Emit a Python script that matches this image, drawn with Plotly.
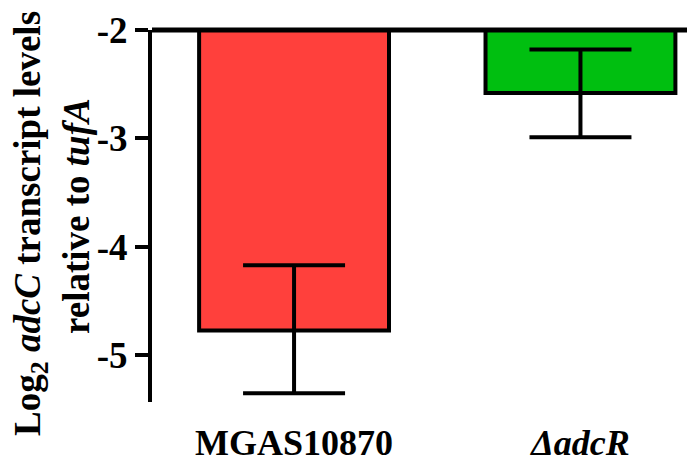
import plotly.graph_objects as go

categories = ["<b>MGAS10870</b>", "<b><i>ΔadcR</i></b>"]
values = [-4.77, -2.58]
err_plus = [0.60, 0.40]
err_minus = [0.58, 0.41]
colors = ["#ff403c", "#00bf10"]
base_level = -2
y_ticks = [-2, -3, -4, -5]
title_lines = ["<b>Log<sub>2</sub> <i>adcC</i> transcript levels</b>", "<b>relative to <i>tufA</i></b>"]

FONT = "Liberation Serif, Times New Roman, serif"
W, H = 687, 471
ML, MR, MT, MB = 152, 0, 30, 69
PW = W - ML - MR
PH = H - MT - MB

fig = go.Figure()
fig.add_trace(go.Bar(
    x=categories,
    y=[v - base_level for v in values],
    base=base_level,
    marker=dict(color=colors, line=dict(color="black", width=4)),
    width=0.663,
    showlegend=False,
))
fig.add_trace(go.Scatter(
    x=categories,
    y=values,
    mode="markers",
    marker=dict(size=0.1, color="rgba(0,0,0,0)"),
    error_y=dict(type="data", symmetric=False, array=err_plus, arrayminus=err_minus,
                 color="black", thickness=4, width=51),
    showlegend=False,
))

fig.add_shape(type="line", xref="paper", yref="paper", x0=0, x1=1, y0=1, y1=1,
              line=dict(color="black", width=5))

for px, py, txt in zip([30, 76], [224, 216], title_lines):
    fig.add_annotation(
        text=txt, xref="paper", yref="paper",
        x=(px - ML) / PW, y=1 - (py - MT) / PH, xanchor="center", yanchor="middle",
        textangle=-90, showarrow=False,
        font=dict(size=37, family=FONT, color="black"),
    )

fig.update_layout(
    width=W, height=H,
    margin=dict(l=ML, r=MR, t=MT, b=MB),
    plot_bgcolor="white", paper_bgcolor="white",
    font=dict(family=FONT, color="black"),
    xaxis=dict(
        range=[-0.496, 1.372], automargin=False,
        showline=False, showgrid=False, zeroline=False,
        ticks="outside", ticklen=9, tickcolor="rgba(0,0,0,0)",
        tickfont=dict(size=36, family=FONT, color="black"),
    ),
    yaxis=dict(
        range=[-5.43, -2], automargin=False,
        tickvals=y_ticks,
        ticktext=[str(t) for t in y_ticks],
        showline=True, linecolor="black", linewidth=4,
        ticks="outside", ticklen=13, tickwidth=4, tickcolor="black",
        showgrid=False, zeroline=False,
        tickfont=dict(size=37, family=FONT, color="black", weight="bold"),
    ),
)

fig.write_html("out.html", config={"displayModeBar": False},
               post_script="document.body.style.margin='0';document.body.style.overflow='hidden';")
